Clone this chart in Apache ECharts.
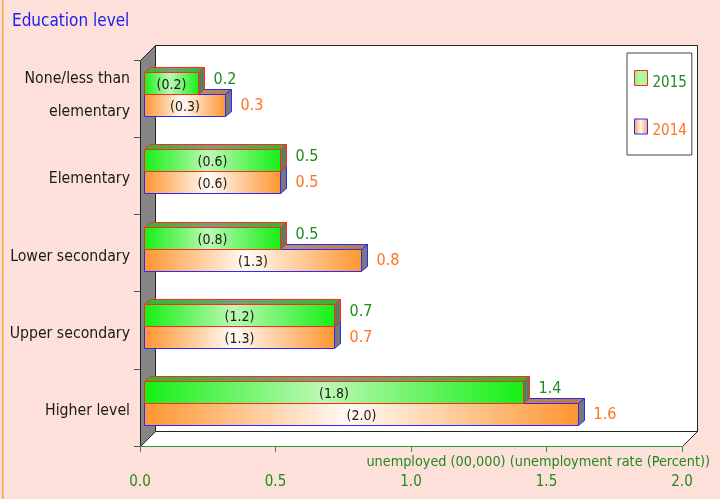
<!DOCTYPE html>
<html><head><meta charset="utf-8">
<script src="https://cdn.jsdelivr.net/npm/echarts@6/dist/echarts.min.js"></script>
<style>html,body{margin:0;padding:0;background:#fde0d9;}#c{width:720px;height:499px;}</style>
</head><body><div id="c"></div>
<script>
// ---- data ----
const categories = ['None/less than\nelementary', 'Elementary', 'Lower secondary', 'Upper secondary', 'Higher level'];
const seriesNames = ['2015', '2014'];
const unemployed2015 = [0.2, 0.5, 0.5, 0.7, 1.4];
const unemployed2014 = [0.3, 0.5, 0.8, 0.7, 1.6];
const rate2015 = [0.2, 0.6, 0.8, 1.2, 1.8];
const rate2014 = [0.3, 0.6, 1.3, 1.3, 2.0];
const xMin = 0, xMax = 2, xStep = 0.5;
const titleText = 'Education level';
const axisTitle = 'unemployed (00,000) (unemployment rate (Percent))';

// ---- layout / style ----
const FONT = "'DejaVu Sans Condensed', 'DejaVu Sans', sans-serif";
const G = {left: 140, top: 60, width: 542, height: 386};
const WALL = 15;          // depth of the 3D box
const BAR_DX = 4, BAR_DY = -4.5; // bars sit part way into the box
const FACE_DX = 6, FACE_DY = 5;  // depth of each bar
const GREEN_TXT = '#1f8a1f', ORANGE_TXT = '#ff7420';

const styles = {
  '2015': {
    front: ['#14f014', '#bdf8b5', '#14f014'],
    top: ['#2fb82f', '#7c9c7c', '#2fb82f'],
    side: '#5d7d5d', stroke: '#ff2a1a', txt: GREEN_TXT, upper: true
  },
  '2014': {
    front: ['#ff9530', '#fffaf6', '#ff9530'],
    top: ['#c07a3a', '#a99a92', '#c07a3a'],
    side: '#787876', stroke: '#2a2aff', txt: ORANGE_TXT, upper: false
  }
};
function grad(c) {
  return {type: 'linear', x: 0, y: 0, x2: 1, y2: 0,
    colorStops: [{offset: 0, color: c[0]}, {offset: 0.47, color: c[1]}, {offset: 1, color: c[2]}]};
}

function makeRender(name) {
  const s = styles[name];
  return function (params, api) {
    const v = api.value(0), c = api.value(1), r = api.value(2);
    const p0 = api.coord([0, c]);
    const p1 = api.coord([v, c]);
    const band = api.size([0, 1])[1];
    const h = Math.round(band * 0.281);
    const x0 = Math.round(p0[0] + BAR_DX) + 0.5;
    const x1 = Math.round(p1[0] + BAR_DX) + 0.5;
    const yc = Math.round(p0[1] + BAR_DY) + 0.5;
    const yT = s.upper ? yc - h : yc;
    const yB = s.upper ? yc : yc + h;
    const sw = {stroke: s.stroke, lineWidth: 1};
    const children = [
      {type: 'polygon', shape: {points: [[x0, yT], [x0 + FACE_DX, yT - FACE_DY], [x1 + FACE_DX, yT - FACE_DY], [x1, yT]]},
        style: Object.assign({fill: grad(s.top)}, sw)},
      {type: 'polygon', shape: {points: [[x1, yT], [x1 + FACE_DX, yT - FACE_DY], [x1 + FACE_DX, yB - FACE_DY], [x1, yB]]},
        style: Object.assign({fill: s.side}, sw)},
      {type: 'rect', shape: {x: x0, y: yT, width: x1 - x0, height: yB - yT},
        style: Object.assign({fill: grad(s.front)}, sw)},
      {type: 'text', style: {x: (x0 + x1) / 2, y: (yT + yB) / 2 + 1.5, text: '(' + r.toFixed(1) + ')',
        fill: '#1a1a1a', fontSize: 14, fontFamily: FONT, align: 'center', verticalAlign: 'middle'}},
      {type: 'text', style: {x: x1 + FACE_DX + 9, y: (yT + yB) / 2 + (s.upper ? -4 : 0), text: v.toFixed(1),
        fill: s.txt, fontSize: 16, fontFamily: FONT, align: 'left', verticalAlign: 'middle'}}
    ];
    return {type: 'group', children: children};
  };
}

const L = G.left, T = G.top, R = G.left + G.width, B = G.top + G.height;

const chart = echarts.init(document.getElementById('c'), null, {renderer: 'canvas'});
chart.setOption({
  backgroundColor: '#fde0d9',
  animation: false,
  title: {text: titleText, left: 7, top: 8,
    textStyle: {color: '#2020ee', fontSize: 17, fontWeight: 'normal', fontFamily: FONT}},
  graphic: {elements: [
    {type: 'rect', z: -10, shape: {x: 2, y: 0, width: 1.5, height: 499}, style: {fill: '#f9a33c'}},
    {type: 'polygon', z: -10, shape: {points: [[L + WALL + 0.5, T - WALL + 0.5], [R + WALL + 0.5, T - WALL + 0.5], [R + WALL + 0.5, B - WALL + 0.5], [L + WALL + 0.5, B - WALL + 0.5]]},
      style: {fill: '#ffffff', stroke: '#222', lineWidth: 1}},
    {type: 'polygon', z: -9, shape: {points: [[L + 0.5, T + 0.5], [L + WALL + 0.5, T - WALL + 0.5], [L + WALL + 0.5, B - WALL + 0.5], [L + 0.5, B + 0.5]]},
      style: {fill: '#858585', stroke: '#222', lineWidth: 1}},
    {type: 'polygon', z: -9, shape: {points: [[L + 0.5, B + 0.5], [L + WALL + 0.5, B - WALL + 0.5], [R + WALL + 0.5, B - WALL + 0.5], [R + 0.5, B + 0.5]]},
      style: {fill: '#ffffff', stroke: '#222', lineWidth: 1}}
  ]},
  legend: {
    orient: 'vertical', left: 627, top: 53,
    backgroundColor: '#ffffff', borderColor: '#444', borderWidth: 1,
    padding: [17, 5, 16, 7], itemWidth: 13, itemHeight: 15, itemGap: 28,
    formatter: n => '{t|' + n + '}',
    textStyle: {fontSize: 15, fontFamily: FONT,
      rich: {t: {fontSize: 15, fontFamily: FONT, padding: [10, 0, 0, 0]}}},
    data: [
      {name: seriesNames[0], icon: 'rect', textStyle: {color: GREEN_TXT},
        itemStyle: {color: grad(['#8ef08a', '#b0fca8', '#a0f89a']), borderColor: '#ff2a1a', borderWidth: 1}},
      {name: seriesNames[1], icon: 'rect', textStyle: {color: ORANGE_TXT},
        itemStyle: {color: grad(['#ff9a40', '#fff6ee', '#ffa050']), borderColor: '#2a2aff', borderWidth: 1}}
    ]
  },
  grid: {left: G.left, top: G.top, width: G.width, height: G.height, containLabel: false},
  xAxis: {
    type: 'value', min: xMin, max: xMax, interval: xStep, z: 5,
    axisLine: {show: true, lineStyle: {color: '#2a9a2a', width: 1}},
    axisTick: {show: true, length: 6, lineStyle: {color: '#2a9a2a'}},
    splitLine: {show: false},
    axisLabel: {margin: 29, color: GREEN_TXT, fontSize: 15, fontFamily: FONT,
      formatter: v => v.toFixed(1)},
    name: axisTitle, nameLocation: 'end', nameGap: 28,
    nameTextStyle: {color: GREEN_TXT, fontSize: 14.3, fontFamily: FONT, align: 'right', verticalAlign: 'top', padding: [9, 0, 0, 0]}
  },
  yAxis: {
    type: 'category', data: categories, inverse: true, z: 5,
    axisLine: {show: false},
    axisTick: {show: true, length: 6, lineStyle: {color: '#555'}},
    splitLine: {show: false},
    axisLabel: {
      margin: 10, color: '#1a1a1a', fontSize: 15.7, fontFamily: FONT, align: 'right',
      formatter: function (v) {
        const parts = v.split('\n');
        if (parts.length > 1) return parts.map(p => '{m|' + p + '}').join('\n') + '\n{e| }';
        return '{s|' + v + '}';
      },
      rich: {
        s: {fontSize: 15.7, fontFamily: FONT, color: '#1a1a1a', padding: [7, 0, 0, 0]},
        m: {fontSize: 15.7, fontFamily: FONT, color: '#1a1a1a', lineHeight: 33},
        e: {fontSize: 1, lineHeight: 6}
      }
    }
  },
  series: [
    {name: seriesNames[1], type: 'custom', z: 3, renderItem: makeRender('2014'),
      itemStyle: {color: '#ff9530'}, encode: {x: 0, y: 1},
      data: categories.map((c, i) => [unemployed2014[i], i, rate2014[i]])},
    {name: seriesNames[0], type: 'custom', z: 4, renderItem: makeRender('2015'),
      itemStyle: {color: '#14f014'}, encode: {x: 0, y: 1},
      data: categories.map((c, i) => [unemployed2015[i], i, rate2015[i]])}
  ]
});
</script></body></html>
